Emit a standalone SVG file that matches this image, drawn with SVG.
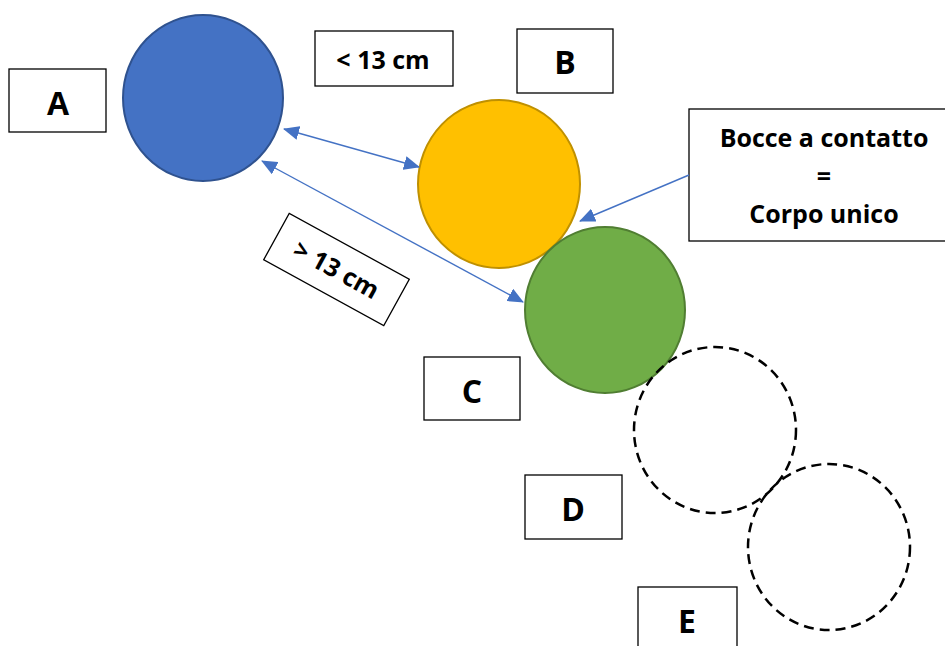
<svg xmlns="http://www.w3.org/2000/svg" width="945" height="646" viewBox="0 0 945 646">
<style>
.box{fill:#fff;stroke:#000;stroke-width:1.3}
.lbl{font-family:"Open Sans","Liberation Sans",sans-serif;font-weight:bold;fill:#000;text-anchor:middle}
.big{font-size:32px}
.mid{font-size:25px}
.ghost{fill:none;stroke:#000;stroke-width:2.5;stroke-dasharray:10 6}
.conn{stroke:#4472C4;stroke-width:1.4;fill:none}
</style>
<defs>
<marker id="ah" markerUnits="userSpaceOnUse" markerWidth="16" markerHeight="14" refX="15" refY="7" orient="auto-start-reverse" viewBox="0 0 16 14">
<path d="M0,0 L16,7 L0,14 Z" fill="#4472C4"/>
</marker>
</defs>
<rect width="945" height="646" fill="#fff"/>
<g id="ballA"><ellipse cx="203" cy="98" rx="80" ry="83" fill="#4472C4" stroke="#2F528F" stroke-width="2"/></g>
<g id="ballB"><ellipse cx="499" cy="184" rx="81" ry="84" fill="#FFC000" stroke="#BF9000" stroke-width="2"/></g>
<g id="ballC"><ellipse cx="605" cy="310" rx="80" ry="83" fill="#70AD47" stroke="#507E32" stroke-width="2"/></g>
<g id="ballD"><ellipse cx="715" cy="430" rx="81" ry="83" class="ghost"/></g>
<g id="ballE"><ellipse cx="829" cy="547" rx="81" ry="83" class="ghost"/></g>
<g id="labelA"><rect class="box" x="9" y="69" width="97" height="63"/><text class="lbl big" x="58" y="115">A</text></g>
<g id="labelB"><rect class="box" x="517" y="29" width="96" height="64"/><text class="lbl big" x="565" y="74">B</text></g>
<g id="labelC"><rect class="box" x="424" y="357" width="96" height="63"/><text class="lbl big" x="472" y="403">C</text></g>
<g id="labelD"><rect class="box" x="525" y="475" width="97" height="64"/><text class="lbl big" x="573" y="521">D</text></g>
<g id="labelE"><rect class="box" x="638" y="587" width="99" height="70"/><text class="lbl big" x="687" y="633">E</text></g>
<g id="lessThan"><rect class="box" x="315" y="31" width="138" height="55"/><text class="lbl mid" x="383" y="69">&lt; 13 cm</text></g>
<g id="greaterThan" transform="translate(336.5,269.5) rotate(28.8)"><rect class="box" x="-68.5" y="-26.5" width="137" height="53"/><text class="lbl mid" x="0" y="9">&gt; 13 cm</text></g>
<g id="note"><rect class="box" x="689" y="109" width="262" height="132"/>
<text class="lbl mid" x="824" y="147">Bocce a contatto</text>
<text class="lbl mid" x="824" y="185">=</text>
<text class="lbl mid" x="824" y="223">Corpo unico</text></g>
<g id="connectors">
<line class="conn" x1="284" y1="129" x2="419" y2="167" marker-start="url(#ah)" marker-end="url(#ah)"/>
<line class="conn" x1="262" y1="161" x2="523" y2="302" marker-start="url(#ah)" marker-end="url(#ah)"/>
<line class="conn" x1="689" y1="175" x2="580" y2="221" marker-end="url(#ah)"/>
</g>
</svg>
